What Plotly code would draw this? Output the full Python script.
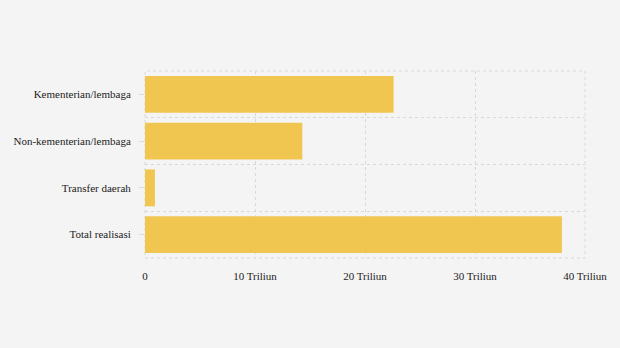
import plotly.graph_objects as go

categories = ["Kementerian/lembaga", "Non-kementerian/lembaga", "Transfer daerah", "Total realisasi"]
values = [22.6e12, 14.3e12, 0.9e12, 37.9e12]
x_tickvals = [0, 10e12, 20e12, 30e12, 40e12]
x_ticktext = ["0", "10 Triliun", "20 Triliun", "30 Triliun", "40 Triliun"]

ypos = list(range(len(categories)))

fig = go.Figure(go.Bar(
    x=values, y=ypos, orientation="h",
    marker=dict(color="#f0c651", line=dict(width=0)),
    width=0.79,
    hoverinfo="skip",
))

fig.update_layout(
    width=620, height=348,
    margin=dict(l=145, r=35, t=71, b=90),
    paper_bgcolor="#f4f4f4", plot_bgcolor="#f4f4f4",
    font=dict(family="Liberation Serif", size=11, color="#222222"),
    showlegend=False,
)
fig.update_xaxes(
    range=[0, 40e12], tickvals=x_tickvals, ticktext=x_ticktext, automargin=False,
    showgrid=True, gridcolor="#d9d9d9", griddash="3px,3px", gridwidth=1,
    zeroline=False, showline=False, ticks="outside", ticklen=8, tickcolor="rgba(0,0,0,0)",
)
fig.update_yaxes(
    range=[3.5, -0.5], tickvals=ypos, ticktext=categories, automargin=False,
    showgrid=False, zeroline=False, showline=False,
    ticks="outside", ticklen=5, tickcolor="#dddddd", tickwidth=1, ticklabelstandoff=6,
    minor=dict(tickvals=[-0.5, 0.5, 1.5, 2.5, 3.5], showgrid=True,
               gridcolor="#d9d9d9", griddash="3px,3px", gridwidth=1, ticks=""),
)
fig.add_shape(type="rect", xref="x domain", yref="y domain", x0=0, x1=1, y0=0, y1=1,
              line=dict(color="#d9d9d9", width=1, dash="3px,3px"), layer="below")

fig.write_html("out.html")
